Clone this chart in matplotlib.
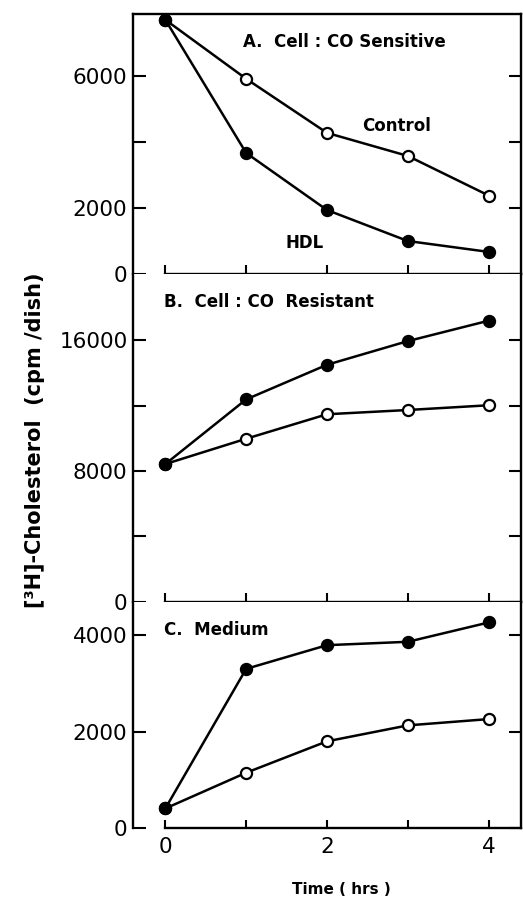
import numpy as np
import matplotlib.pyplot as plt

plt.rcParams['font.family'] = ['DejaVu Sans']

hours = [0, 1, 2, 3, 4]

# A. Cell: CO Sensitive
sens_control = [7710, 5920, 4280, 3580, 2380]
sens_hdl = [7710, 3670, 1940, 1000, 670]

# B. Cell: CO Resistant
res_control = [8430, 9980, 11480, 11740, 12030]
res_hdl = [8430, 12390, 14510, 15960, 17210]

# C. Medium
med_control = [410, 1150, 1800, 2130, 2260]
med_hdl = [410, 3300, 3790, 3860, 4260]

fig = plt.figure(figsize=(5.23, 9.01), dpi=100)

left = 133 / 523
width = (521 - 133) / 523
axA = fig.add_axes([left, 0.6959, width, 0.2891])
axB = fig.add_axes([left, 0.3322, width, 0.3637])
axC = fig.add_axes([left, 0.0807, width, 0.2515])

line_kw = dict(color='black', lw=1.8, markersize=8, markeredgewidth=1.6)


def draw(ax, control, hdl):
    ax.plot(hours, control, marker='o', markerfacecolor='white',
            markeredgecolor='black', **line_kw)
    ax.plot(hours, hdl, marker='o', markerfacecolor='black',
            markeredgecolor='black', **line_kw)
    ax.set_xlim(-0.4, 4.4)
    ax.set_xticks(hours)
    for s in ax.spines.values():
        s.set_linewidth(1.7)
    ax.spines['bottom'].set_bounds(0, 4.4)
    ax.tick_params(axis='y', which='both', direction='in', length=9,
                   width=1.5, labelsize=15.5, pad=4, right=True)
    ax.tick_params(axis='x', width=1.5)


draw(axA, sens_control, sens_hdl)
draw(axB, res_control, res_hdl)
draw(axC, med_control, med_hdl)

# panel A
axA.set_ylim(0, 7900)
axA.set_yticks([0, 2000, 4000, 6000])
axA.set_yticklabels(['0', '2000', '', '6000'])
axA.tick_params(axis='x', direction='inout', length=13, labelbottom=False)
axA.text(0.96, 7040, 'A.  Cell : CO Sensitive', fontsize=12, fontweight='bold',
         va='center', ha='left')
axA.text(2.44, 4490, 'Control', fontsize=12, fontweight='bold', va='center')
axA.text(1.49, 940, 'HDL', fontsize=12, fontweight='bold', va='center')

# panel B
axB.spines['top'].set_visible(False)
axB.set_ylim(0, 20070)
axB.set_yticks([0, 4000, 8000, 12000, 16000])
axB.set_yticklabels(['0', '', '8000', '', '16000'])
axB.tick_params(axis='x', direction='inout', length=13, labelbottom=False)
axB.text(-0.02, 18370, 'B.  Cell : CO  Resistant', fontsize=12,
         fontweight='bold', va='center', ha='left')

# panel C
axC.spines['top'].set_visible(False)
axC.set_ylim(0, 4690)
axC.set_yticks([0, 2000, 4000])
axC.set_xticklabels(['0', '', '2', '', '4'])
axC.tick_params(axis='x', direction='in', length=6, labelsize=15.5, pad=6)
axC.text(-0.02, 4100, 'C.  Medium', fontsize=12, fontweight='bold',
         va='center', ha='left')

fig.text(341 / 523, 1 - 890 / 901, 'Time ( hrs )', fontsize=11,
         fontweight='bold', ha='center', va='center')
fig.text(35 / 523, 1 - 440 / 901, '[³H]-Cholesterol  (cpm /dish)',
         fontsize=15, fontweight='bold', rotation=90, ha='center', va='center')

fig.savefig('out.png', dpi=100)
